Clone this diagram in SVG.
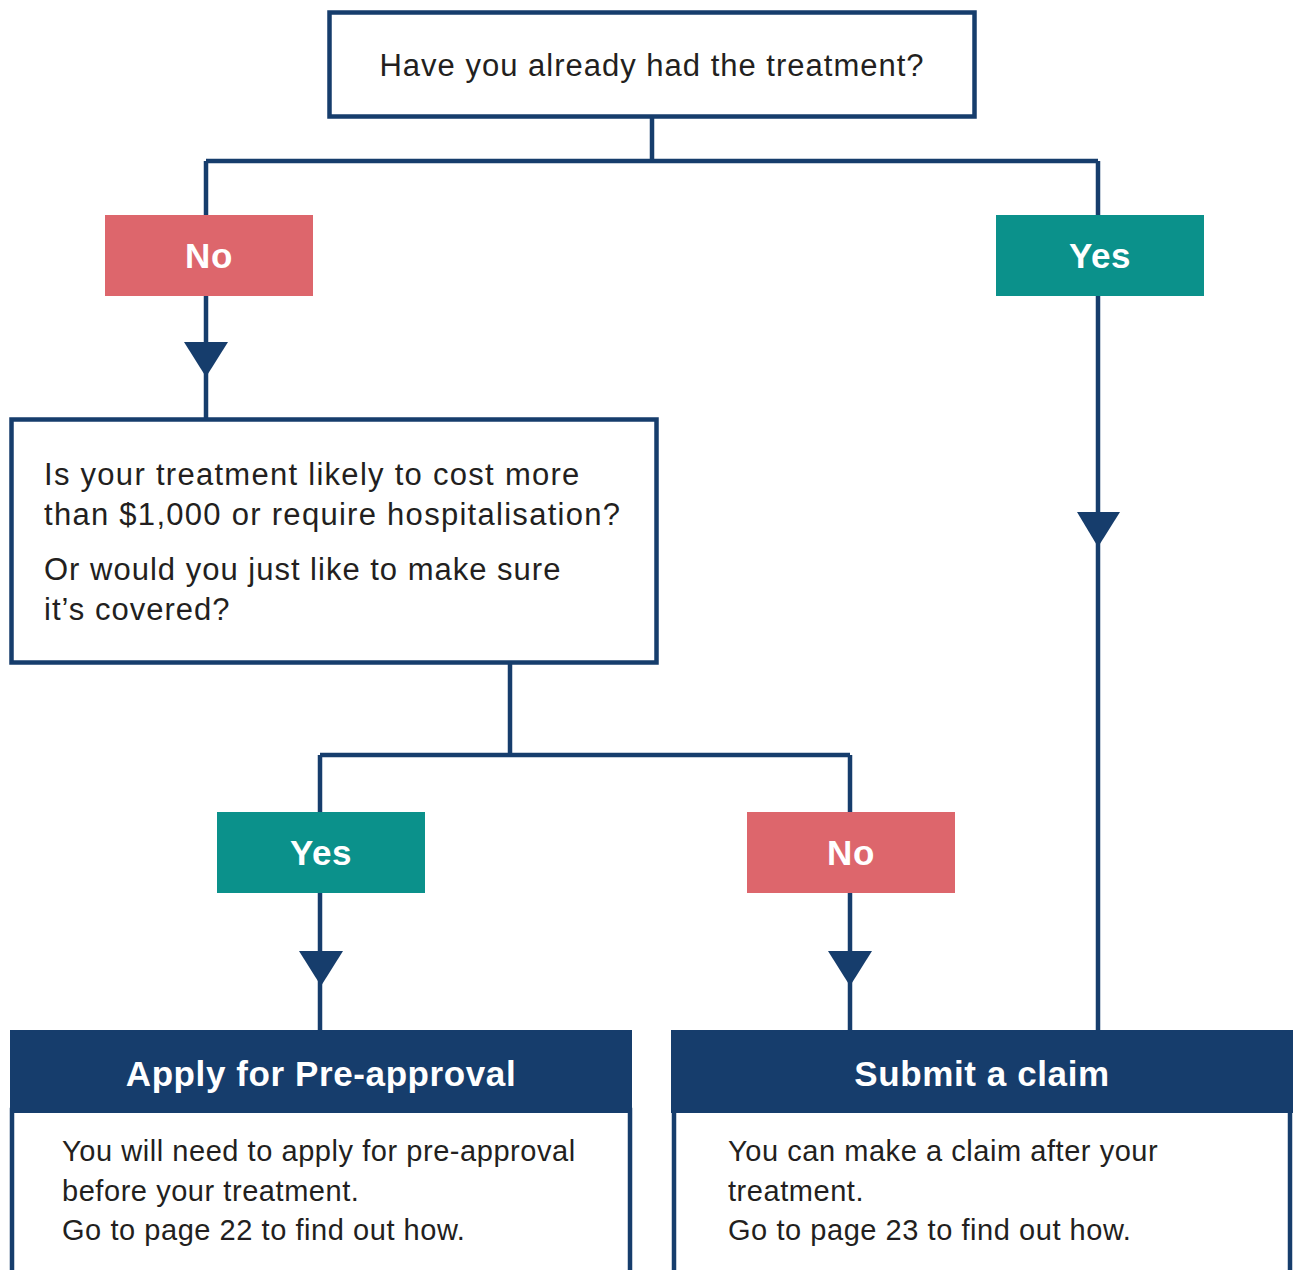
<svg xmlns="http://www.w3.org/2000/svg" width="1293" height="1270" viewBox="0 0 1293 1270">
<defs>
<style>
.ln{stroke:#163d6c;stroke-width:4.5;fill:none}
.box{fill:#fff;stroke:#163d6c;stroke-width:4.5}
.ah{fill:#163d6c}
.t{font-family:"Liberation Sans",Arial,sans-serif;fill:#231f20;font-size:31px;letter-spacing:1px}
.q{letter-spacing:1.28px}
.b{font-family:"Liberation Sans",Arial,sans-serif;fill:#231f20;font-size:29px;letter-spacing:0.55px}
.lb{font-family:"Liberation Sans",Arial,sans-serif;fill:#fff;font-size:35px;font-weight:bold;text-anchor:middle;letter-spacing:0.6px}
.no{fill:#dd666c}
.yes{fill:#0b918b}
.hd{fill:#163d6c}
</style>
</defs>
<rect width="1293" height="1270" fill="#fff"/>
<g id="connectors">
<path class="ln" d="M652 117V161M206 161H1098M206 161V418M1098 161V1030M510 664V755M320 755H850M320 755V1030M850 755V1030"/>
<polygon class="ah" points="184,342 228,342 206,377"/>
<polygon class="ah" points="1077,512 1120,512 1098,547"/>
<polygon class="ah" points="299,951 343,951 321,986"/>
<polygon class="ah" points="828,951 872,951 850,986"/>
</g>
<g id="q1">
<rect class="box" x="329.5" y="12.5" width="645" height="104"/>
<text class="t" x="652" y="76" text-anchor="middle">Have you already had the treatment?</text>
</g>
<g id="no1">
<rect class="no" x="105" y="215" width="208" height="81"/>
<text class="lb" x="209" y="268">No</text>
</g>
<g id="yes1">
<rect class="yes" x="996" y="215" width="208" height="81"/>
<text class="lb" x="1100" y="268">Yes</text>
</g>
<g id="q2">
<rect class="box" x="11.5" y="419.5" width="645" height="243"/>
<text class="t q" x="44" y="485">Is your treatment likely to cost more</text>
<text class="t q" x="44" y="525">than $1,000 or require hospitalisation?</text>
<text class="t" x="44" y="580">Or would you just like to make sure</text>
<text class="t" x="44" y="620">it’s covered?</text>
</g>
<g id="yes2">
<rect class="yes" x="217" y="812" width="208" height="81"/>
<text class="lb" x="321" y="865">Yes</text>
</g>
<g id="no2">
<rect class="no" x="747" y="812" width="208" height="81"/>
<text class="lb" x="851" y="865">No</text>
</g>
<g id="preapproval">
<rect class="box" x="12" y="1110" width="618" height="170"/>
<rect class="hd" x="10" y="1030" width="622" height="83"/>
<text class="lb" x="321" y="1086">Apply for Pre-approval</text>
<text class="b" x="62" y="1161">You will need to apply for pre-approval</text>
<text class="b" x="62" y="1201">before your treatment.</text>
<text class="b" x="62" y="1240">Go to page 22 to find out how.</text>
</g>
<g id="claim">
<rect class="box" x="674" y="1110" width="616" height="170"/>
<rect class="hd" x="671" y="1030" width="622" height="83"/>
<text class="lb" x="982" y="1086">Submit a claim</text>
<text class="b" x="728" y="1161">You can make a claim after your</text>
<text class="b" x="728" y="1201">treatment.</text>
<text class="b" x="728" y="1240">Go to page 23 to find out how.</text>
</g>
</svg>
